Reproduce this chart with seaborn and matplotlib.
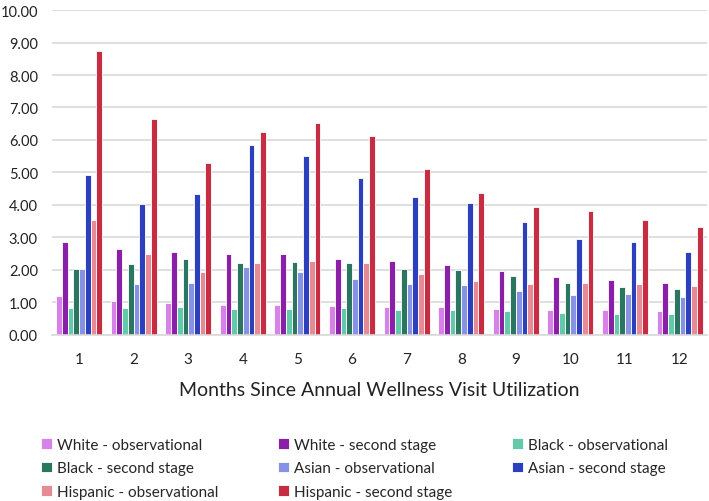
import numpy as np
import pandas as pd
import seaborn as sns
import matplotlib.pyplot as plt

months = [str(m) for m in range(1, 13)]
series = [
    "White - observational",
    "White - second stage",
    "Black - observational",
    "Black - second stage",
    "Asian - observational",
    "Asian - second stage",
    "Hispanic - observational",
    "Hispanic - second stage",
]
colors = ["#D682E8", "#8A1FA8", "#62C9AB", "#2A7661", "#8792E4", "#2C40BD", "#E68B93", "#C72D42"]

white_obs = [1.20, 1.03, 0.97, 0.92, 0.92, 0.88, 0.86, 0.85, 0.80, 0.77, 0.75, 0.74]
white_2nd = [2.87, 2.65, 2.55, 2.50, 2.50, 2.33, 2.26, 2.15, 1.97, 1.79, 1.69, 1.60]
black_obs = [0.82, 0.83, 0.86, 0.79, 0.80, 0.82, 0.77, 0.78, 0.73, 0.67, 0.64, 0.64]
black_2nd = [2.02, 2.17, 2.35, 2.20, 2.25, 2.22, 2.04, 2.00, 1.81, 1.59, 1.46, 1.40]
asian_obs = [2.03, 1.57, 1.61, 2.10, 1.93, 1.73, 1.57, 1.54, 1.36, 1.24, 1.25, 1.16]
asian_2nd = [4.93, 4.03, 4.33, 5.83, 5.50, 4.82, 4.25, 4.06, 3.46, 2.94, 2.87, 2.55]
hisp_obs = [3.53, 2.50, 1.92, 2.22, 2.27, 2.20, 1.86, 1.65, 1.56, 1.60, 1.56, 1.51]
hisp_2nd = [8.75, 6.65, 5.30, 6.23, 6.52, 6.13, 5.12, 4.36, 3.95, 3.80, 3.55, 3.31]

values = [white_obs, white_2nd, black_obs, black_2nd, asian_obs, asian_2nd, hisp_obs, hisp_2nd]
rows = []
for name, vals in zip(series, values):
    for m, v in zip(months, vals):
        rows.append({"month": m, "series": name, "value": v})
df = pd.DataFrame(rows)

sns.set_style("white")
plt.rcParams["font.family"] = ["Lato", "DejaVu Sans"]

fig = plt.figure(figsize=(7.09, 5.02), dpi=100)
ax = fig.add_axes([0.073, 0.331, 0.924, 0.647])

sns.barplot(
    data=df, x="month", y="value", hue="series", order=months, hue_order=series,
    palette=colors, width=0.84, edgecolor="white", linewidth=0.6, saturation=1,
    ax=ax, legend=True,
)

ax.set_ylim(0, 10)
ax.set_yticks(np.arange(0, 11, 1))
ax.set_yticklabels([f"{v:.2f}" for v in range(0, 11)])
ax.yaxis.grid(True, color="#D9D9D9", linewidth=1.2)
ax.set_axisbelow(True)
for s in ["top", "right", "left"]:
    ax.spines[s].set_visible(False)
ax.spines["bottom"].set_color("#D9D9D9")
ax.spines["bottom"].set_linewidth(1.2)
ax.tick_params(axis="both", length=0, labelsize=11, colors="#222222")
ax.tick_params(axis="y", pad=10, labelsize=10.5)
ax.tick_params(axis="x", pad=12)
ax.set_ylabel("")
ax.set_xlabel("Months Since Annual Wellness Visit Utilization", fontsize=14, labelpad=11, color="#222222")

handles, labels = ax.get_legend_handles_labels()
ax.get_legend().remove()
order = [0, 3, 6, 1, 4, 7, 2, 5]
fig.legend(
    [handles[i] for i in order], [labels[i] for i in order],
    loc="upper left", bbox_to_anchor=(0.058, 0.126), ncol=3, frameon=False,
    fontsize=11, handlelength=0.7, handleheight=0.7, handletextpad=0.35,
    columnspacing=3.9, labelspacing=0.62, borderpad=0, borderaxespad=0,
)

fig.savefig("out.png", dpi=100)
